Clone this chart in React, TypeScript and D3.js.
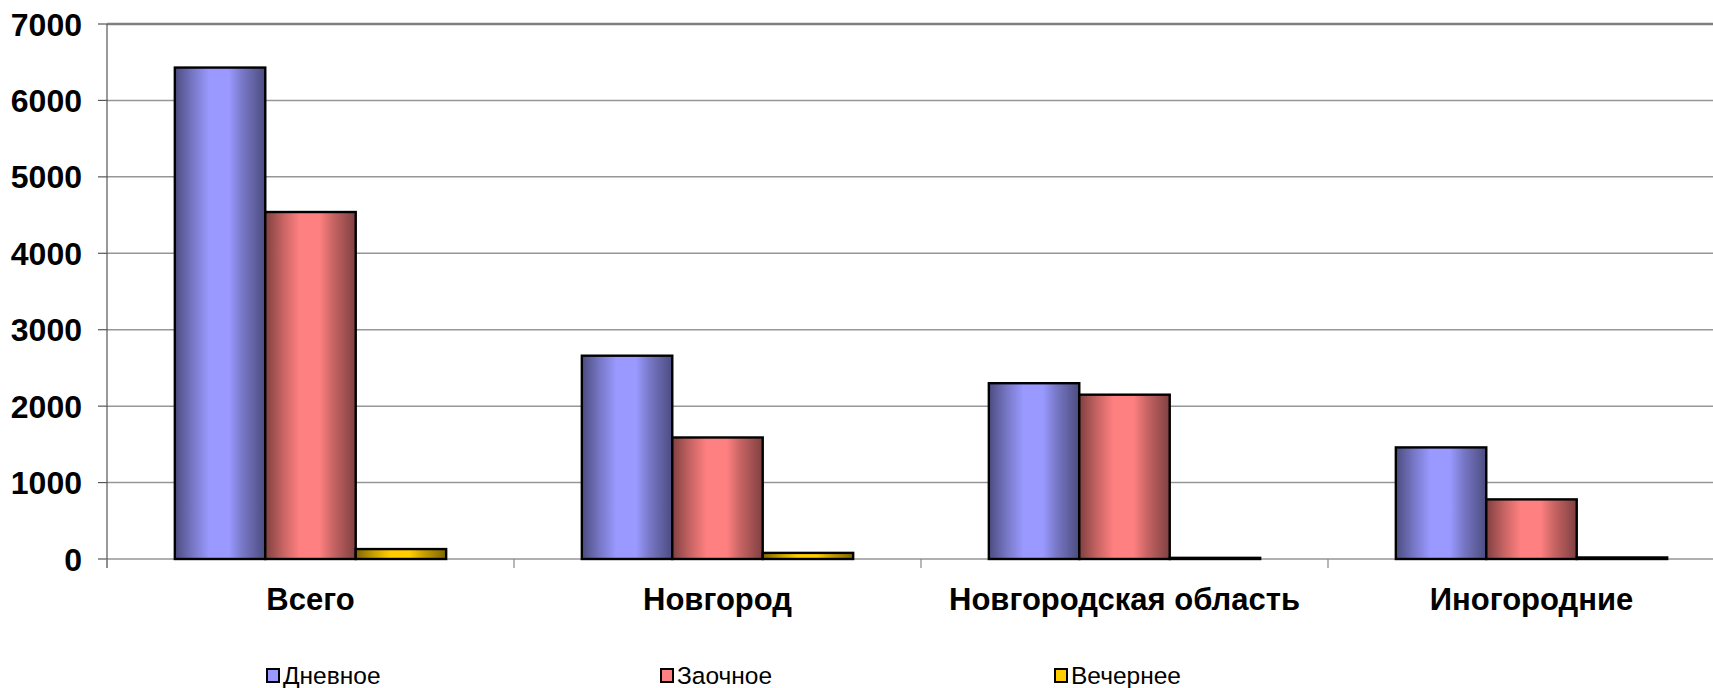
import * as d3 from "d3";

const categories = ["Всего", "Новгород", "Новгородская область", "Иногородние"];
const seriesNames = ["Дневное", "Заочное", "Вечернее"];
const dayValues = [6430, 2660, 2300, 1460];
const extramuralValues = [4540, 1590, 2150, 780];
const eveningValues = [130, 80, 15, 20];
const yTicks = [0, 1000, 2000, 3000, 4000, 5000, 6000, 7000];

const seriesValues = [dayValues, extramuralValues, eveningValues];
const seriesColors = [
  { light: "#9999ff", mid: "#7777c6", dark: "#4c4c80" },
  { light: "#ff8080", mid: "#c86464", dark: "#7f4040" },
  { light: "#ffcc00", mid: "#c8a000", dark: "#806600" },
];

const width = 1713;
const height = 688;
const margin = { top: 24, left: 107, bottom: 129 };
const plotRight = 1735; // plot area runs past the right edge in the original
const font = "'Liberation Sans', Arial, sans-serif";

export default function App() {
  const x = d3
    .scaleBand<string>()
    .domain(categories)
    .range([margin.left, plotRight])
    .paddingInner(0)
    .paddingOuter(0);

  const xInner = d3
    .scaleBand<number>()
    .domain(d3.range(seriesNames.length))
    .range([0, x.bandwidth()])
    .paddingInner(0)
    .paddingOuter(0.75);

  const y = d3
    .scaleLinear()
    .domain([0, 7000])
    .range([height - margin.bottom, margin.top]);

  const y0 = y(0);

  return (
    <svg
      width={width}
      height={height}
      style={{ position: "absolute", left: 0, top: 0, background: "#fff" }}
      fontFamily={font}
    >
      <defs>
        {seriesColors.map((c, i) => (
          <linearGradient key={i} id={`grad${i}`} x1="0" x2="1" y1="0" y2="0">
            <stop offset="0%" stopColor={c.dark} />
            <stop offset="20%" stopColor={c.mid} />
            <stop offset="38%" stopColor={c.light} />
            <stop offset="60%" stopColor={c.light} />
            <stop offset="75%" stopColor={c.mid} />
            <stop offset="100%" stopColor={c.dark} />
          </linearGradient>
        ))}
      </defs>

      {/* gridlines */}
      {yTicks.map((t) => (
        <line
          key={t}
          x1={margin.left}
          x2={plotRight}
          y1={y(t)}
          y2={y(t)}
          stroke={t === 7000 ? "#7f7f7f" : "#969696"}
          strokeWidth={t === 7000 ? 2.5 : 1.5}
        />
      ))}

      {/* y axis */}
      <line x1={margin.left} x2={margin.left} y1={y(7000)} y2={y0 + 9} stroke="#555" strokeWidth={1.2} />
      {yTicks.map((t) => (
        <g key={t}>
          <line x1={margin.left - 9} x2={margin.left} y1={y(t)} y2={y(t)} stroke="#555" strokeWidth={1.2} />
          <text
            x={82}
            y={y(t)}
            dy="0.36em"
            textAnchor="end"
            fontSize={32}
            fontWeight="bold"
            fill="#000"
          >
            {t}
          </text>
        </g>
      ))}

      {/* x axis ticks */}
      {categories.map((c) => (
        <line
          key={c}
          x1={x(c)}
          x2={x(c)}
          y1={y0}
          y2={y0 + 9}
          stroke="#888"
          strokeWidth={1.2}
        />
      ))}

      {/* bars */}
      {seriesValues.map((vals, s) =>
        categories.map((c, i) => {
          const bx = (x(c) ?? 0) + (xInner(s) ?? 0);
          const by = y(vals[i]);
          return (
            <rect
              key={`${s}-${c}`}
              x={bx}
              y={by}
              width={xInner.bandwidth()}
              height={Math.max(y0 - by, 0.5)}
              fill={`url(#grad${s})`}
              stroke="#000"
              strokeWidth={2.4}
            />
          );
        })
      )}

      {/* category labels */}
      {categories.map((c) => (
        <text
          key={c}
          x={(x(c) ?? 0) + x.bandwidth() / 2}
          y={610}
          textAnchor="middle"
          fontSize={31}
          fontWeight="bold"
          fill="#000"
        >
          {c}
        </text>
      ))}

      {/* legend */}
      {seriesNames.map((name, i) => {
        const lx = 267 + i * 394;
        return (
          <g key={name}>
            <rect
              x={lx}
              y={669}
              width={12}
              height={13}
              fill={seriesColors[i].light}
              stroke="#000"
              strokeWidth={2}
            />
            <text x={lx + 16} y={684} fontSize={24.5} fill="#000">
              {name}
            </text>
          </g>
        );
      })}
    </svg>
  );
}
